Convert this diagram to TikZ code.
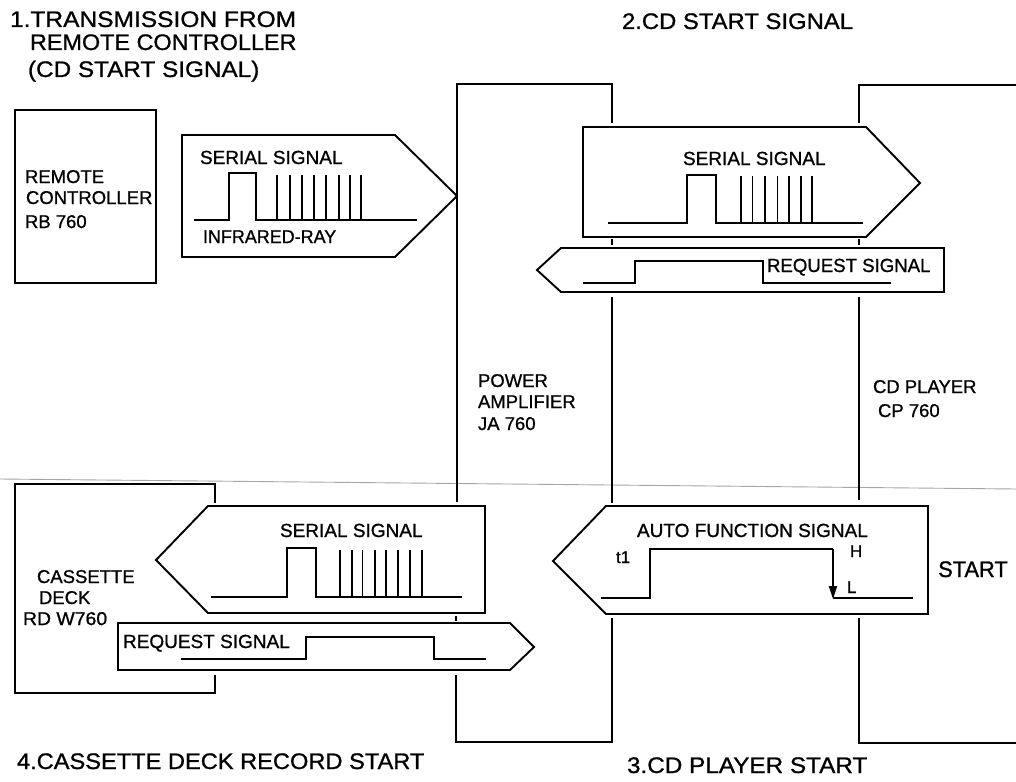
\documentclass[tikz,border=0pt]{standalone}
\usepackage{fontspec}
\usepackage{graphicx}
\setmainfont{Liberation Sans}[FakeBold=0.9]
\usetikzlibrary{arrows.meta}
\newcommand{\sx}[2]{\scalebox{#1}[1]{#2}}
\tikzset{
  ln/.style={line width=1.9pt, line join=miter},
  wave/.style={line width=1.8pt},
  lbl/.style={anchor=base west, inner sep=0pt, outer sep=0pt, font=\fontsize{19}{19}\selectfont},
  dev/.style={anchor=base west, inner sep=0pt, outer sep=0pt, font=\fontsize{18.5}{18.5}\selectfont},
  ttl/.style={anchor=base west, inner sep=0pt, outer sep=0pt, font=\fontsize{22.5}{22.5}\selectfont},
  small/.style={anchor=base west, inner sep=0pt, outer sep=0pt, font=\fontsize{17}{17}\selectfont},
}
\begin{document}
\begin{tikzpicture}[x=1pt, y=-1pt]
\useasboundingbox (0,0) rectangle (1016,781);
\fill[white] (0,0) rectangle (1016,781);
% scan seam
\draw[gray!70, line width=0.9pt] (0,479) -- (1016,489);

% ---------- titles ----------
\node[ttl] (t1a) at (10,27) {\sx{1.09}{1.TRANSMISSION FROM}};
\node[ttl] (t1b) at (30,50) {\sx{1.04}{REMOTE CONTROLLER}};
\node[ttl] (t1c) at (28,77) {\sx{1.08}{(CD START SIGNAL)}};
\node[ttl] (t2) at (622,29) {\sx{1.06}{2.CD START SIGNAL}};
\node[ttl] (t3) at (627,773) {\sx{1.08}{3.CD PLAYER START}};
\node[ttl] (t4) at (17,769) {\sx{1.05}{4.CASSETTE DECK RECORD START}};

% ---------- remote controller ----------
\draw[ln] (15,110) rectangle (156,283);
\node[dev] (rc1) at (25,183) {REMOTE};
\node[dev] (rc2) at (26,204) {CONTROLLER};
\node[dev] (rc3) at (25,228) {RB 760};

% ---------- power amplifier ----------
\draw[ln] (457,502) -- (457,84) -- (612,84) -- (612,123);
\draw[ln] (612,239) -- (612,245);
\draw[ln] (612,297) -- (612,503);
\draw[ln] (456,616) -- (456,621);
\draw[ln] (456,675) -- (456,742) -- (612,742) -- (612,618);
\node[dev] (pa1) at (478,387) {POWER};
\node[dev] (pa2) at (478,408) {AMPLIFIER};
\node[dev] (pa3) at (478,430) {JA 760};

% ---------- CD player ----------
\draw[ln] (1016,85) -- (859,85) -- (859,123);
\draw[ln] (859,239) -- (859,245);
\draw[ln] (859,297) -- (859,500);
\draw[ln] (859,618) -- (859,743) -- (1016,743);
\node[dev] (cd1) at (873,393) {CD PLAYER};
\node[dev] (cd2) at (878,417) {CP 760};

% ---------- cassette deck ----------
\draw[ln] (215,503) -- (215,484) -- (15,484) -- (15,693) -- (215,693) -- (215,675);
\node[dev] (cs1) at (37,583) {CASSETTE};
\node[dev] (cs2) at (39,604) {DECK};
\node[dev] (cs3) at (23,625) {\sx{1.05}{RD W760}};

% ---------- 1: infrared serial signal ----------
\draw[ln] (182,135) -- (395,135) -- (457,196) -- (395,257) -- (182,257) -- cycle;
\node[lbl] (ss1) at (200,164) {SERIAL SIGNAL};
\node[dev] (ir) at (203,243) {\sx{0.97}{INFRARED-RAY}};
\draw[wave] (194,220) -- (229,220) -- (229,173) -- (256,173) -- (256,220) -- (417,220);
\foreach \xx in {277,290,302,314,326,339,350,361} \draw[wave] (\xx,220) -- (\xx,175);

% ---------- 2: CD start serial signal ----------
\draw[ln] (583,127) -- (866,127) -- (920,183) -- (866,237) -- (583,237) -- cycle;
\node[lbl] (ss2) at (683,165) {SERIAL SIGNAL};
\draw[wave] (608,223) -- (687,223) -- (687,175) -- (716,175) -- (716,223) -- (863,223);
\foreach \xx in {741,752.5,765,777.5,789,801,812} \draw[wave] (\xx,223) -- (\xx,176);

\draw[ln] (537,270) -- (561,248) -- (944,248) -- (944,292) -- (561,292) -- cycle;
\node[lbl] (rq2) at (767,272) {\sx{0.98}{REQUEST SIGNAL}};
\draw[wave] (583,283) -- (635,283) -- (635,261) -- (763,261) -- (763,283) -- (891,283);

% ---------- 3: auto function signal ----------
\draw[ln] (553,561) -- (606,506) -- (928,506) -- (928,614) -- (606,614) -- cycle;
\node[lbl] (af) at (637,537) {\sx{1.0}{AUTO FUNCTION SIGNAL}};
\node[small] (t1) at (616,563) {t1};
\node[small] (hh) at (850,557) {H};
\node[small] (ll) at (847,593) {L};
\draw[wave] (601,598) -- (650,598) -- (650,549) -- (833,549);
\draw[wave, -{Triangle[length=13pt,width=8pt]}] (833,549) -- (833,599);
\draw[wave] (833,598) -- (913,598);
\node[anchor=base west, inner sep=0pt, font=\fontsize{22.5}{22.5}\selectfont] (st) at (938,577) {\sx{0.97}{START}};

% ---------- 4: cassette serial signal ----------
\draw[ln] (156,560) -- (208,506) -- (485,506) -- (485,613) -- (208,613) -- cycle;
\node[lbl] (ss3) at (280,537) {SERIAL SIGNAL};
\draw[wave] (211,597) -- (287,597) -- (287,548) -- (316,548) -- (316,597) -- (462,597);
\foreach \xx in {340,352,362.5,375,386,398,410,422} \draw[wave] (\xx,597) -- (\xx,550);

\draw[ln] (118,623) -- (510,623) -- (534,647) -- (510,670) -- (118,670) -- cycle;
\node[lbl] (rq3) at (123,648) {REQUEST SIGNAL};
\draw[wave] (181,659) -- (306,659) -- (306,637) -- (434,637) -- (434,659) -- (486,659);
\end{tikzpicture}
\end{document}
